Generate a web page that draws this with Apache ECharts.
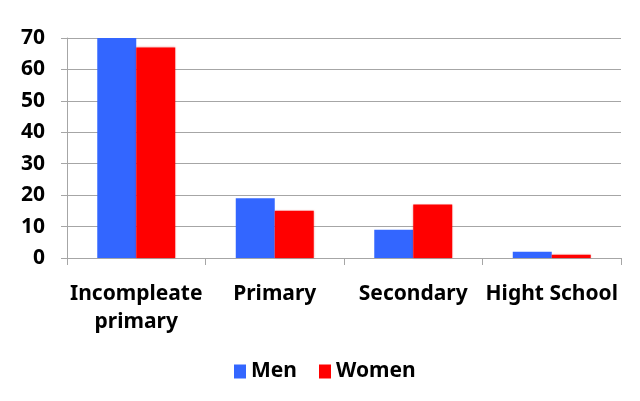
<!DOCTYPE html>
<html><head><meta charset="utf-8">
<script src="https://cdn.jsdelivr.net/npm/echarts@6/dist/echarts.min.js"></script>
<style>html,body{margin:0;padding:0;background:#fff}#c{width:640px;height:401px}</style>
</head><body><div id="c"></div>
<script>
const categories = ['Incompleate\nprimary', 'Primary', 'Secondary', 'Hight School'];
const men = [70, 19, 9, 2];
const women = [67, 15, 17, 1];
const yTicks = [0, 10, 20, 30, 40, 50, 60, 70];

const font = 'Noto Sans';
const chart = echarts.init(document.getElementById('c'));
chart.setOption({
  animation: false,
  backgroundColor: '#fff',
  grid: { left: 67, right: 19, top: 38, bottom: 143 },
  legend: {
    bottom: 14, left: 229,
    itemWidth: 12, itemHeight: 14, itemGap: 22,
    icon: 'rect',
    textStyle: { fontFamily: font, fontWeight: 'bold', fontSize: 21, color: '#000' },
    data: ['Men', 'Women']
  },
  xAxis: {
    type: 'category', data: categories,
    axisLine: { lineStyle: { color: '#a6a6a6', width: 1 } },
    axisTick: { show: true, length: 7, lineStyle: { color: '#a6a6a6' } },
    axisLabel: { fontFamily: font, fontWeight: 'bold', fontSize: 21, color: '#000', margin: 22, lineHeight: 28, interval: 0 }
  },
  yAxis: {
    type: 'value', min: yTicks[0], max: yTicks[yTicks.length - 1], interval: 10,
    axisLine: { show: true, lineStyle: { color: '#a6a6a6' } },
    axisTick: { show: true, length: 6, lineStyle: { color: '#a6a6a6' } },
    splitLine: { lineStyle: { color: '#a6a6a6', width: 1 } },
    axisLabel: { fontFamily: font, fontWeight: 'bold', fontSize: 21, color: '#000', margin: 22 }
  },
  series: [
    { name: 'Men', type: 'bar', data: men, barGap: '0%', barCategoryGap: '43.7%',
      itemStyle: { color: '#3366ff' } },
    { name: 'Women', type: 'bar', data: women,
      itemStyle: { color: '#ff0000', shadowColor: 'rgba(200,0,0,0.35)', shadowBlur: 2 } }
  ]
});
</script></body></html>
